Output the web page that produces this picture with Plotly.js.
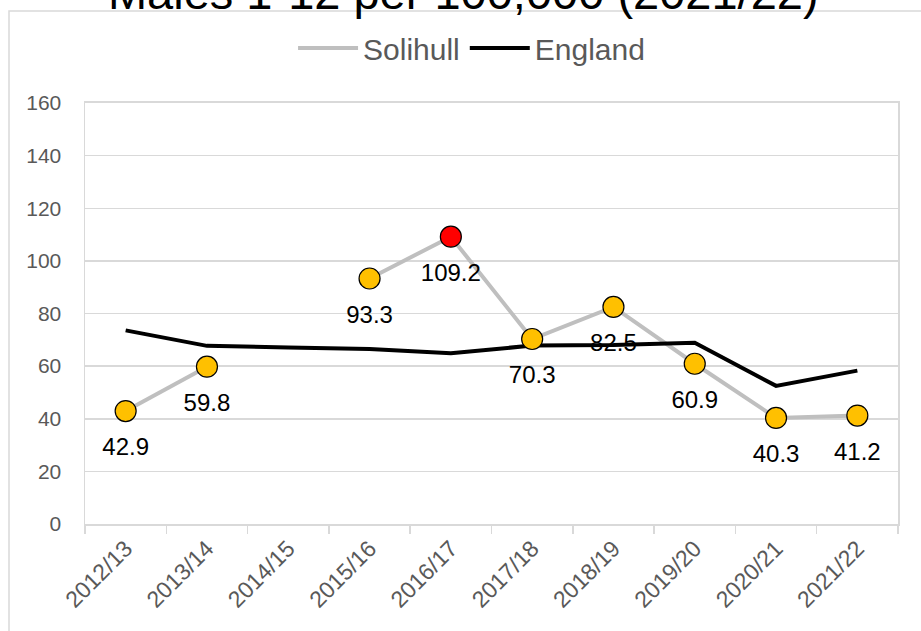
<!DOCTYPE html>
<html>
<head>
<meta charset="utf-8">
<script src="https://cdn.plot.ly/plotly-3.0.1.min.js"></script>
<style>html,body{margin:0;padding:0;background:#fff;}#chart{width:921px;height:631px;}</style>
</head>
<body>
<div id="chart"></div>
<script>
const years = ['2012/13','2013/14','2014/15','2015/16','2016/17','2017/18','2018/19','2019/20','2020/21','2021/22'];
const solihull = [42.9, 59.8, null, 93.3, 109.2, 70.3, 82.5, 60.9, 40.3, 41.2];
const england = [73.6, 67.7, 67.1, 66.5, 64.9, 67.8, 68.0, 68.9, 52.5, 58.3];
const chartTitle = 'Males 1-12 per 100,000 (2021/22)';

const FONT = 'Liberation Sans, Arial, sans-serif';
const maxVal = Math.max(...solihull.filter(v => v !== null));
const markerColors = solihull.map(v => v === maxVal ? '#FF0000' : '#FFC000');
const labels = solihull.map(v => v === null ? '' : v.toFixed(1));

const traces = [
  {x: years, y: solihull, type: 'scatter', mode: 'lines', name: 'Solihull',
   line: {color: '#BFBFBF', width: 4}, connectgaps: false, hoverinfo: 'skip'},
  {x: years, y: solihull, type: 'scatter', mode: 'markers+text', showlegend: false,
   marker: {size: 40, color: 'rgba(0,0,0,0)', line: {width: 0}},
   text: labels, textposition: 'bottom center',
   textfont: {family: FONT, size: 24, color: '#000000'}, hoverinfo: 'skip'},
  {x: years, y: england, type: 'scatter', mode: 'lines', name: 'England',
   line: {color: '#000000', width: 4}},
  {x: years, y: solihull, type: 'scatter', mode: 'markers', showlegend: false,
   marker: {size: 21, color: markerColors, line: {color: '#000000', width: 1.2}}}
];

const layout = {
  width: 921, height: 631,
  margin: {l: 85, r: 23, t: 103, b: 107},
  paper_bgcolor: '#FFFFFF', plot_bgcolor: '#FFFFFF',
  font: {family: FONT, color: '#595959'},
  title: {text: chartTitle, font: {family: FONT, size: 47, color: '#000000'},
          xref: 'container', x: 0.503, xanchor: 'center',
          yref: 'container', y: 1 - 9/631, yanchor: 'bottom'},
  showlegend: true,
  legend: {orientation: 'h', xref: 'container', x: 0.512, xanchor: 'center',
           yref: 'container', y: 1 - 48/631, yanchor: 'middle',
           font: {family: FONT, size: 30, color: '#595959'}, itemwidth: 60,
           traceorder: 'normal', bgcolor: 'rgba(0,0,0,0)'},
  xaxis: {type: 'category', range: [-0.5, 9.5], autorange: false,
          tickson: 'boundaries', ticks: 'outside', ticklen: 8,
          tickcolor: '#D9D9D9', tickwidth: 1.5, tickangle: -45,
          tickfont: {family: FONT, size: 23, color: '#595959'},
          showline: true, linecolor: '#D9D9D9', linewidth: 2, mirror: true,
          showgrid: false, fixedrange: true},
  yaxis: {range: [0, 160], autorange: false, dtick: 20, tick0: 0, ticks: '',
          tickfont: {family: FONT, size: 21, color: '#595959'},
          ticklabelstandoff: 18,
          gridcolor: '#D9D9D9', gridwidth: 1.5, zeroline: false,
          showline: true, linecolor: '#D9D9D9', linewidth: 1.5, mirror: true, fixedrange: true},
  shapes: [{type: 'rect', xref: 'paper', yref: 'paper',
            x0: (9 - 85) / 813, x1: 1.05, y0: -0.3, y1: (524 - 11) / 421,
            line: {color: '#D9D9D9', width: 1.5}, fillcolor: 'rgba(0,0,0,0)', layer: 'below'}]
};

Plotly.newPlot('chart', traces, layout, {displayModeBar: false, staticPlot: true});
</script>
</body>
</html>
